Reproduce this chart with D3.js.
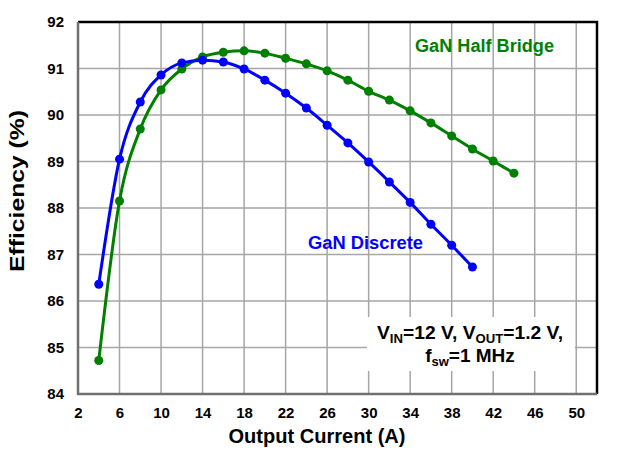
<!DOCTYPE html>
<html>
<head>
<meta charset="utf-8">
<script src="https://cdn.jsdelivr.net/npm/d3@7"></script>
<style>
  body { margin: 0; background: #fff; }
  svg { display: block; font-family: "Liberation Sans", Arial, sans-serif; }
</style>
</head>
<body>
<div id="chart"></div>
<script>
// Data
const current = [4, 6, 8, 10, 12, 14, 16, 18, 20, 22, 24, 26, 28, 30, 32, 34, 36, 38, 40, 42, 44];
const discreteEff = [86.36, 89.05, 90.28, 90.86, 91.12, 91.18, 91.14, 90.99, 90.75, 90.47,
    90.15, 89.78, 89.40, 88.99, 88.56, 88.12, 87.65, 87.20, 86.73];
const halfBridgeEff = [84.72, 88.15, 89.70, 90.54, 90.99, 91.25, 91.35, 91.38, 91.33, 91.22,
    91.10, 90.95, 90.75, 90.51, 90.32, 90.09, 89.83, 89.55, 89.27, 89.01, 88.75];
const xTicks = [2, 6, 10, 14, 18, 22, 26, 30, 34, 38, 42, 46, 50];
const yTicks = [84, 85, 86, 87, 88, 89, 90, 91, 92];

const series = [
    { name: "GaN Half Bridge", color: "#008000", values: halfBridgeEff },
    { name: "GaN Discrete", color: "#0000ff", values: discreteEff }
];

const W = 621, H = 457;
const margin = { top: 22, right: 24, bottom: 63, left: 78 };
const width = W - margin.left - margin.right;
const height = H - margin.top - margin.bottom;

const svg = d3.select("#chart").append("svg")
    .attr("width", W)
    .attr("height", H);

const g = svg.append("g")
    .attr("transform", `translate(${margin.left},${margin.top})`);

const x = d3.scaleLinear().domain([2, 52]).range([0, width]);
const y = d3.scaleLinear().domain([84, 92]).range([height, 0]);

// Gridlines
g.append("g")
    .selectAll("line")
    .data(xTicks.slice(1))
    .join("line")
    .attr("x1", d => x(d)).attr("x2", d => x(d))
    .attr("y1", 0).attr("y2", height)
    .attr("stroke", "#a6a6a6")
    .attr("stroke-width", 1.5);

g.append("g")
    .selectAll("line")
    .data(yTicks.slice(1, -1))
    .join("line")
    .attr("x1", 0).attr("x2", width)
    .attr("y1", d => y(d)).attr("y2", d => y(d))
    .attr("stroke", "#a6a6a6")
    .attr("stroke-width", 1.5);

// Frame: black top/right, gray left/bottom
g.append("path")
    .attr("d", `M0,${y(92)}H${width}V${height}`)
    .attr("fill", "none")
    .attr("stroke", "#000")
    .attr("stroke-width", 2.5);

g.append("path")
    .attr("d", `M0,${y(92)}V${height}H${width}`)
    .attr("fill", "none")
    .attr("stroke", "#707070")
    .attr("stroke-width", 2.5);

// Tick labels
const xAxis = g.append("g")
    .attr("transform", `translate(0,${height})`)
    .call(d3.axisBottom(x).tickValues(xTicks).tickSize(0).tickPadding(13));
const yAxis = g.append("g")
    .call(d3.axisLeft(y).tickValues(yTicks).tickSize(0).tickPadding(14));
[xAxis, yAxis].forEach(a => {
    a.select(".domain").remove();
    a.selectAll("text")
        .style("font-family", "'Liberation Sans', Arial, sans-serif")
        .style("font-size", "15px")
        .style("font-weight", "bold")
        .style("fill", "#000");
});

// Axis titles
svg.append("text")
    .attr("x", 317)
    .attr("y", 443)
    .attr("text-anchor", "middle")
    .attr("textLength", 177)
    .attr("lengthAdjust", "spacingAndGlyphs")
    .style("font-size", "20px")
    .style("font-weight", "bold")
    .text("Output Current (A)");

svg.append("text")
    .attr("transform", "translate(24,191) rotate(-90)")
    .attr("text-anchor", "middle")
    .attr("textLength", 162)
    .attr("lengthAdjust", "spacingAndGlyphs")
    .style("font-size", "21px")
    .style("font-weight", "bold")
    .text("Efficiency (%)");

// Annotation box
const note = g.append("g");
note.append("rect")
    .attr("x", 289).attr("y", 295)
    .attr("width", 208).attr("height", 54)
    .attr("fill", "#fff");
const line1 = note.append("text")
    .attr("x", 392).attr("y", 317)
    .attr("text-anchor", "middle")
    .attr("textLength", 186)
    .attr("lengthAdjust", "spacingAndGlyphs")
    .style("font-size", "19px")
    .style("font-weight", "bold");
line1.append("tspan").text("V");
line1.append("tspan").attr("dy", 4).style("font-size", "13px").text("IN");
line1.append("tspan").attr("dy", -4).text("=12 V, V");
line1.append("tspan").attr("dy", 4).style("font-size", "13px").text("OUT");
line1.append("tspan").attr("dy", -4).text("=1.2 V,");
const line2 = note.append("text")
    .attr("x", 392).attr("y", 340)
    .attr("text-anchor", "middle")
    .style("font-size", "19px")
    .style("font-weight", "bold");
line2.append("tspan").text("f");
line2.append("tspan").attr("dy", 4).style("font-size", "13px").text("sw");
line2.append("tspan").attr("dy", -4).text("=1 MHz");

// Curves
const line = d3.line()
    .x(d => x(d[0]))
    .y(d => y(d[1]))
    .curve(d3.curveMonotoneX);

series.forEach(s => {
    const pts = s.values.map((v, i) => [current[i], v]);
    g.append("path")
        .datum(pts)
        .attr("d", line)
        .attr("fill", "none")
        .attr("stroke", s.color)
        .attr("stroke-width", 3);
    g.append("g")
        .selectAll("circle")
        .data(pts)
        .join("circle")
        .attr("cx", d => x(d[0]))
        .attr("cy", d => y(d[1]))
        .attr("r", 4.5)
        .attr("fill", s.color);
});

// Series labels
g.append("text")
    .attr("x", 337).attr("y", 30)
    .attr("textLength", 139)
    .attr("lengthAdjust", "spacingAndGlyphs")
    .style("font-size", "18px")
    .style("font-weight", "bold")
    .style("fill", "#008000")
    .text("GaN Half Bridge");

g.append("text")
    .attr("x", 230).attr("y", 227)
    .attr("textLength", 115)
    .attr("lengthAdjust", "spacingAndGlyphs")
    .style("font-size", "18px")
    .style("font-weight", "bold")
    .style("fill", "#0000ff")
    .text("GaN Discrete");
</script>
</body>
</html>
